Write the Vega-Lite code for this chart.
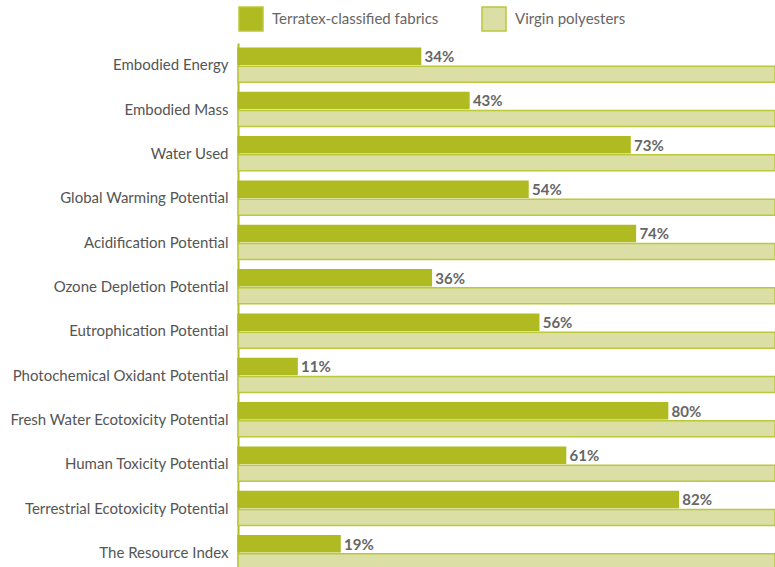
{
  "$schema": "https://vega.github.io/schema/vega-lite/v6.json",
  "width": 537,
  "height": 524,
  "autosize": {"type": "none"},
  "padding": {"top": 43, "left": 238, "right": 0, "bottom": 0},
  "background": "white",
  "config": {"view": {"stroke": null}, "font": "Lato"},
  "data": {
    "values": [
      {"category": "Embodied Energy", "series": "Terratex-classified fabrics", "value": 0.34},
      {"category": "Embodied Energy", "series": "Virgin polyesters", "value": 1.0},
      {"category": "Embodied Mass", "series": "Terratex-classified fabrics", "value": 0.43},
      {"category": "Embodied Mass", "series": "Virgin polyesters", "value": 1.0},
      {"category": "Water Used", "series": "Terratex-classified fabrics", "value": 0.73},
      {"category": "Water Used", "series": "Virgin polyesters", "value": 1.0},
      {"category": "Global Warming Potential", "series": "Terratex-classified fabrics", "value": 0.54},
      {"category": "Global Warming Potential", "series": "Virgin polyesters", "value": 1.0},
      {"category": "Acidification Potential", "series": "Terratex-classified fabrics", "value": 0.74},
      {"category": "Acidification Potential", "series": "Virgin polyesters", "value": 1.0},
      {"category": "Ozone Depletion Potential", "series": "Terratex-classified fabrics", "value": 0.36},
      {"category": "Ozone Depletion Potential", "series": "Virgin polyesters", "value": 1.0},
      {"category": "Eutrophication Potential", "series": "Terratex-classified fabrics", "value": 0.56},
      {"category": "Eutrophication Potential", "series": "Virgin polyesters", "value": 1.0},
      {"category": "Photochemical Oxidant Potential", "series": "Terratex-classified fabrics", "value": 0.11},
      {"category": "Photochemical Oxidant Potential", "series": "Virgin polyesters", "value": 1.0},
      {"category": "Fresh Water Ecotoxicity Potential", "series": "Terratex-classified fabrics", "value": 0.80},
      {"category": "Fresh Water Ecotoxicity Potential", "series": "Virgin polyesters", "value": 1.0},
      {"category": "Human Toxicity Potential", "series": "Terratex-classified fabrics", "value": 0.61},
      {"category": "Human Toxicity Potential", "series": "Virgin polyesters", "value": 1.0},
      {"category": "Terrestrial Ecotoxicity Potential", "series": "Terratex-classified fabrics", "value": 0.82},
      {"category": "Terrestrial Ecotoxicity Potential", "series": "Virgin polyesters", "value": 1.0},
      {"category": "The Resource Index", "series": "Terratex-classified fabrics", "value": 0.19},
      {"category": "The Resource Index", "series": "Virgin polyesters", "value": 1.0}
    ]
  },
  "encoding": {
    "y": {
      "field": "category",
      "type": "nominal",
      "sort": null,
      "scale": {"range": [0, 532], "paddingInner": 0.233, "paddingOuter": 0.1165},
      "axis": {
        "title": null,
        "ticks": false,
        "labelPadding": 10,
        "labelFontSize": 15,
        "labelColor": "#555555",
        "labelLimit": 300,
        "domainColor": "#b0bb23",
        "domainWidth": 2
      }
    },
    "yOffset": {
      "field": "series",
      "type": "nominal",
      "sort": ["Terratex-classified fabrics", "Virgin polyesters"],
      "scale": {"paddingInner": 0.111, "paddingOuter": 0}
    }
  },
  "layer": [
    {
      "mark": {"type": "bar", "strokeWidth": 1.5},
      "encoding": {
        "x": {"field": "value", "type": "quantitative", "scale": {"domain": [0, 1], "nice": false}, "axis": null},
        "fill": {
          "field": "series",
          "type": "nominal",
          "sort": ["Terratex-classified fabrics", "Virgin polyesters"],
          "scale": {"range": ["#afbb21", "#dbdfa5"]},
          "legend": {
            "title": null,
            "orient": "none",
            "legendX": 0,
            "legendY": -37,
            "direction": "horizontal",
            "symbolType": "square",
            "symbolSize": 576,
            "symbolStrokeWidth": 1.5,
            "symbolStrokeColor": "#bcc83c",
            "labelFontSize": 15,
            "labelColor": "#666666",
            "labelLimit": 400,
            "labelOffset": 8,
            "columnPadding": 40
          }
        },
        "stroke": {
          "field": "series",
          "type": "nominal",
          "sort": ["Terratex-classified fabrics", "Virgin polyesters"],
          "scale": {"range": ["#afbb21", "#bcc83c"]},
          "legend": null
        }
      }
    },
    {
      "transform": [{"filter": "datum.series == 'Terratex-classified fabrics'"}],
      "mark": {"type": "text", "align": "left", "baseline": "middle", "dx": 4, "dy": 1, "fontWeight": "bold", "fontSize": 15, "fill": "#666666"},
      "encoding": {
        "x": {"field": "value", "type": "quantitative"},
        "text": {"field": "value", "type": "quantitative", "format": ".0%"}
      }
    }
  ]
}
